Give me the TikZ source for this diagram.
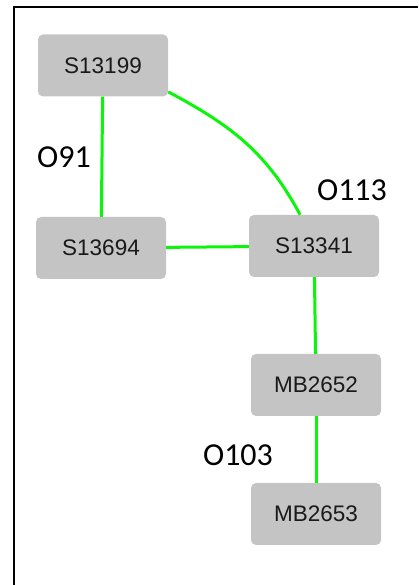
\documentclass[tikz,border=0pt]{standalone}
\usepackage{fontspec}
\setmainfont{Liberation Sans}
\newfontfamily\lblfont{Carlito}
\definecolor{boxgray}{RGB}{196,196,196}
\definecolor{linkgreen}{RGB}{10,245,10}
\tikzset{
  station/.style={draw=none, fill=boxgray, rounded corners=5pt, minimum width=130pt,
    minimum height=62pt, inner sep=0pt, text=black!90, font=\fontsize{22.5}{26}\selectfont},
  link/.style={draw=linkgreen, line width=3pt},
  tag/.style={font=\lblfont\fontsize{32}{36}\selectfont}
}
\begin{document}
\begin{tikzpicture}[x=1pt,y=1pt]
      \useasboundingbox (0,0) rectangle (418,585);
      \draw[line width=2.5pt] (14,0) -- (14,578) -- (418,578);
      \draw
        (103,519.5) node[station] (S13199){S13199}
        (101,337) node[station] (S13694){S13694}
        (314,339) node[station] (S13341){S13341}
        (316,200) node[station] (MB2652){MB2652}
        (316,71) node[station] (MB2653){MB2653};
      \begin{scope}[link]
        \draw (S13199) to (S13694);
        \draw (S13199.-22) to[out=-28,in=118] (S13341.114);
        \draw (S13694) to (S13341);
        \draw (S13341) to (MB2652);
        \draw (MB2652) to (MB2653);
      \end{scope}
      \node[tag] (O91) at (64,428) {O91};
      \node[tag] (O113) at (352,395) {O113};
      \node[tag] (O103) at (238,130) {O103};
    \end{tikzpicture}
\end{document}
